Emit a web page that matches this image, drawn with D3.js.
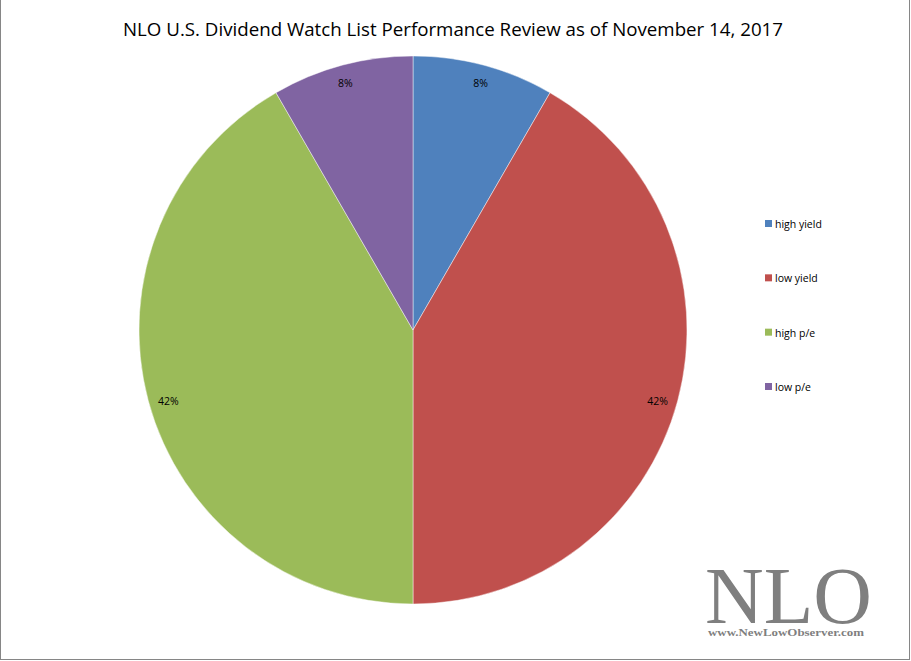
<!DOCTYPE html>
<html><head><meta charset="utf-8">
<script src="https://cdn.jsdelivr.net/npm/d3@7"></script>
<style>body{margin:0;background:#fff}svg{display:block}</style>
</head><body>
<script>
const categories = ["high yield", "low yield", "high p/e", "low p/e"];
const values = [1, 5, 5, 1];
const labels = ["8%", "42%", "42%", "8%"];
const colors = ["#4F81BD", "#C0504D", "#9BBB59", "#8064A2"];
const title = "NLO U.S. Dividend Watch List Performance Review  as of November 14, 2017";

const W = 911, H = 661;
const svg = d3.select("body").append("svg").attr("width", W).attr("height", H);
svg.append("rect").attr("width", W).attr("height", H).attr("fill", "#fff");

// border
const bc = "#868686";
svg.append("line").attr("x1", 0.5).attr("x2", 0.5).attr("y1", 0).attr("y2", 660).attr("stroke", bc);
svg.append("line").attr("x1", 909.5).attr("x2", 909.5).attr("y1", 0).attr("y2", 660).attr("stroke", bc);
svg.append("line").attr("x1", 0).attr("x2", 910).attr("y1", 659.5).attr("y2", 659.5).attr("stroke", bc);

svg.append("text").attr("x", 453).attr("y", 36).attr("text-anchor", "middle")
  .attr("font-family", "'Open Sans', sans-serif").attr("font-size", 18).attr("fill", "#000")
  .attr("textLength", 660).attr("lengthAdjust", "spacingAndGlyphs").text(title);

const cx = 413, cy = 330, R = 274;
const pie = d3.pie().sort(null).value(d => d)(values);
const arc = d3.arc().innerRadius(0).outerRadius(R);
const g = svg.append("g").attr("transform", `translate(${cx},${cy})`);
g.selectAll("path").data(pie).join("path").attr("d", arc)
  .attr("fill", (d, i) => colors[i]).attr("stroke", "rgba(255,255,255,0.45)").attr("stroke-width", 1);

function labelPos(d) {
  let a = (d.startAngle + d.endAngle) / 2;
  a += 0.026 * Math.sin(a);
  const r = 255;
  return [r * Math.sin(a), -r * Math.cos(a)];
}
g.selectAll("text.lab").data(pie).join("text").attr("class", "lab")
  .attr("transform", d => { const c = labelPos(d); return `translate(${c[0]},${c[1] + 3})`; })
  .attr("text-anchor", "middle").attr("font-family", "'Open Sans', sans-serif").attr("font-size", 10.5)
  .attr("fill", "#000").text((d, i) => labels[i]);

// legend
const ly = d3.scalePoint().domain(categories).range([224, 387]);
const lg = svg.append("g");
categories.forEach((c, i) => {
  lg.append("rect").attr("x", 765).attr("y", ly(c) - 4).attr("width", 7).attr("height", 7).attr("fill", colors[i]);
  lg.append("text").attr("x", 775).attr("y", ly(c) + 4).attr("font-family", "'Open Sans', sans-serif")
    .attr("font-size", 10.5).attr("fill", "#000").text(c);
});

// watermark
svg.append("text").attr("x", 705).attr("y", 623).attr("font-family", "'Liberation Serif', serif")
  .attr("font-size", 81).attr("fill", "#7f7f7f").attr("textLength", 167).attr("lengthAdjust", "spacingAndGlyphs").text("NLO");
svg.append("text").attr("x", 708).attr("y", 636).attr("font-family", "'Liberation Serif', serif")
  .attr("font-weight", "bold").attr("font-size", 11).attr("fill", "#7f7f7f")
  .attr("textLength", 156).attr("lengthAdjust", "spacingAndGlyphs").text("www.NewLowObserver.com");
</script>
</body></html>
